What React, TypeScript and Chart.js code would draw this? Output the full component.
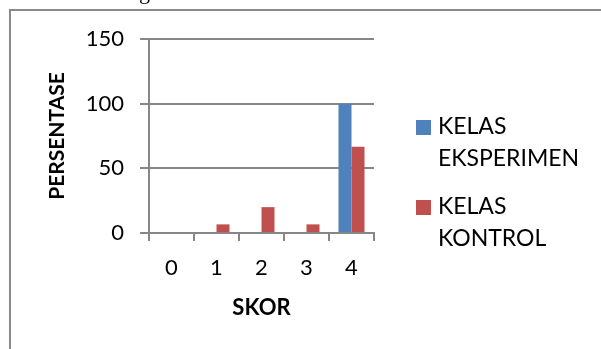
import React, { useEffect, useRef } from "react";
import { Chart, registerables } from "chart.js";

Chart.register(...registerables);

// Score categories and the percentage of students per class at each score
const categories = ["0", "1", "2", "3", "4"];
const kelasEksperimen = [0, 0, 0, 0, 100];
const kelasKontrol = [0, 6.67, 20, 6.67, 66.67];
const seriesLabels = ["KELAS EKSPERIMEN", "KELAS KONTROL"];
const seriesColors = ["#4F81BD", "#C0504D"];
const yMax = 150;
const yStep = 50;
const xTitle = "SKOR";
const yTitle = "PERSENTASE";

const FONT = "Lato, 'Open Sans', sans-serif";
const GRID = "#878787";

// Frame around the figure plus a wrapped legend on the right
const framePlugin = {
  id: "frameAndLegend",
  beforeDraw(chart: Chart) {
    const ctx = chart.ctx;
    ctx.save();
    ctx.strokeStyle = "#8a8a8a";
    ctx.lineWidth = 2;
    ctx.beginPath();
    ctx.moveTo(10, chart.height);
    ctx.lineTo(10, 10);
    ctx.lineTo(chart.width, 10);
    ctx.stroke();
    ctx.fillStyle = "#000";
    ctx.font = "22px 'Liberation Serif', serif";
    ctx.textBaseline = "alphabetic";
    ctx.fillText("g", 139, -1);
    ctx.restore();
  },
  afterDraw(chart: Chart) {
    const ctx = chart.ctx;
    const x0 = 416;
    const box = 15;
    const lineH = 32;
    let y = 127;
    ctx.save();
    ctx.font = `23px ${FONT}`;
    ctx.textBaseline = "middle";
    ctx.textAlign = "left";
    chart.data.datasets.forEach((ds: any) => {
      const lines = String(ds.label).split(" ");
      ctx.fillStyle = ds.backgroundColor;
      ctx.fillRect(x0, Math.round(y - box / 2), box, box);
      ctx.fillStyle = "#000";
      lines.forEach((ln, i) => ctx.fillText(ln, x0 + 22, y + i * lineH));
      y += lines.length * lineH + 16;
    });
    ctx.restore();
  },
};

export default function App() {
  const ref = useRef<HTMLCanvasElement>(null);

  useEffect(() => {
    if (!ref.current) return;
    const chart = new Chart(ref.current, {
      type: "bar",
      data: {
        labels: categories,
        datasets: [
          { label: seriesLabels[0], data: kelasEksperimen, backgroundColor: seriesColors[0] },
          { label: seriesLabels[1], data: kelasKontrol, backgroundColor: seriesColors[1] },
        ],
      },
      plugins: [framePlugin],
      options: {
        animation: false,
        responsive: false,
        devicePixelRatio: 1,
        datasets: { bar: { categoryPercentage: 0.578, barPercentage: 1 } },
        layout: { padding: { left: 0, right: 227, top: 39, bottom: 0 } },
        plugins: { legend: { display: false }, tooltip: { enabled: false } },
        scales: {
          x: {
            grid: { drawOnChartArea: false, drawTicks: true, tickLength: 8, color: GRID, lineWidth: 2 },
            border: { color: GRID, width: 2 },
            ticks: { color: "#000", font: { family: FONT, size: 22 }, padding: 14 },
            title: {
              display: true,
              text: xTitle,
              color: "#000",
              font: { family: FONT, size: 22, weight: "bold" },
              padding: { top: 0, bottom: 28 },
            },
            afterFit(scale: any) {
              scale.height = 349 - 233;
              scale.paddingLeft = 0;
              scale.paddingRight = 0;
            },
          },
          y: {
            min: 0,
            max: yMax,
            ticks: { stepSize: yStep, color: "#000", font: { family: FONT, size: 22 }, padding: 16 },
            grid: { color: GRID, lineWidth: 2, tickLength: 9 },
            border: { color: GRID, width: 2 },
            title: {
              display: true,
              text: yTitle,
              color: "#000",
              font: { family: FONT, size: 21, weight: "bold" },
              padding: { top: 45, bottom: 0 },
            },
            afterFit(scale: any) {
              scale.width = 149;
              scale.paddingTop = 0;
              scale.paddingBottom = 0;
            },
          },
        },
      },
    });
    return () => chart.destroy();
  }, []);

  return (
    <div style={{ position: "fixed", left: 0, top: 0, width: 601, height: 349, background: "#fff" }}>
      <canvas ref={ref} width={601} height={349} style={{ display: "block" }} />
    </div>
  );
}
